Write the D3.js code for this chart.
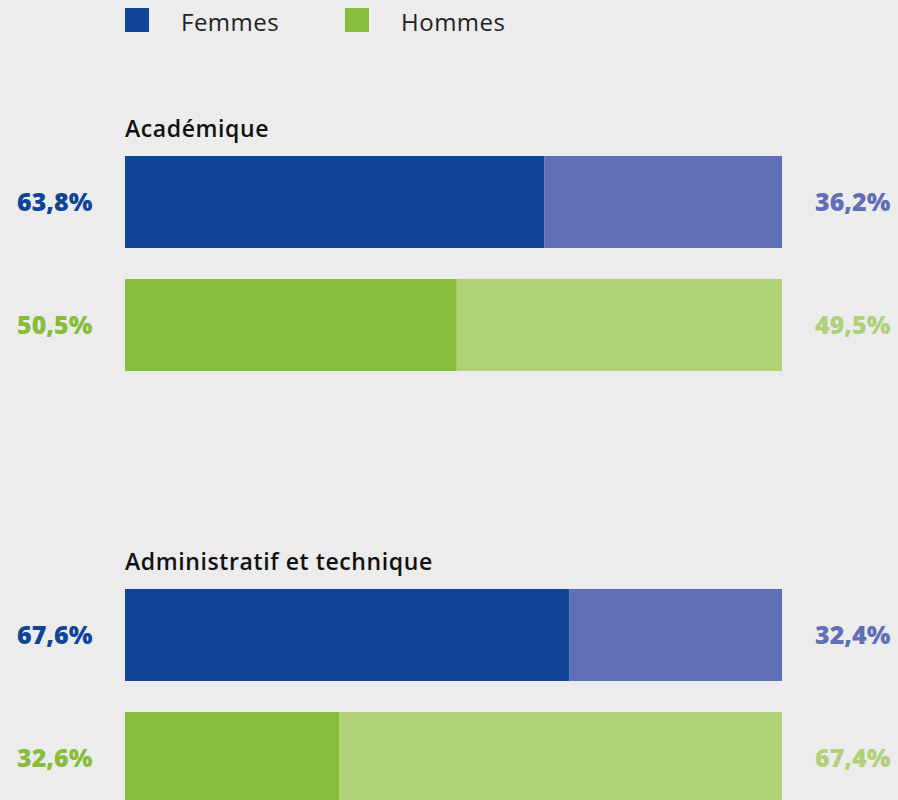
<!DOCTYPE html>
<html>
<head>
<meta charset="utf-8">
<script src="https://cdn.jsdelivr.net/npm/d3@7/dist/d3.min.js"></script>
<style>
  html, body { margin: 0; padding: 0; background: #ececec; }
  svg { display: block; }
  text { font-family: "Open Sans", Lato, sans-serif; }
</style>
</head>
<body>
<svg id="chart" width="898" height="800"></svg>
<script>
// Groups and their two rows (Femmes, Hommes)
const sections = ["Académique", "Administratif et technique"];
const rows = ["Femmes", "Hommes"];
// Main share per section/row (dark part); the remainder is the light part
const mainShare = [
  [63.8, 50.5],
  [67.6, 32.6]
];
const restShare = [
  [36.2, 49.5],
  [32.4, 67.4]
];
const legendItems = ["Femmes", "Hommes"];

const darkColors = { Femmes: "#0f4496", Hommes: "#86bd3a" };
const lightColors = { Femmes: "#6170b5", Hommes: "#b0d178" };

const svg = d3.select("#chart");
const W = 898, H = 800;
svg.append("rect").attr("width", W).attr("height", H).attr("fill", "#ececec");

const x = d3.scaleLinear().domain([0, 100]).range([125, 782]);
const sectionY = d3.scaleBand().domain(sections).range([105, 971]).paddingInner(0);
const rowY = d3.scaleBand().domain(rows).range([51, 266]).paddingInner(0.252).paddingOuter(0);

const fmt = v => d3.format(".1f")(v).replace(".", ",") + "%";

// Legend
const legend = svg.append("g");
legendItems.forEach((name, i) => {
  const g = legend.append("g").attr("transform", `translate(${125 + i * 220},8)`);
  g.append("rect").attr("width", 24).attr("height", 24).attr("fill", darkColors[name]);
  g.append("text").attr("x", 56).attr("y", 23).attr("font-size", 24).attr("font-weight", 400)
    .attr("letter-spacing", 0.5).attr("fill", "#222").text(name);
});

sections.forEach((sec, si) => {
  const g = svg.append("g").attr("transform", `translate(0,${sectionY(sec)})`);
  g.append("text").attr("x", 125).attr("y", 32).attr("font-size", 23).attr("font-weight", 600)
    .attr("letter-spacing", 0.6).attr("fill", "#111").text(sec);
  rows.forEach((r, ri) => {
    const y0 = rowY(r), h = rowY.bandwidth();
    const a = mainShare[si][ri], b = restShare[si][ri];
    g.append("rect").attr("x", x(0)).attr("y", y0).attr("width", x(a) - x(0)).attr("height", h)
      .attr("fill", darkColors[r]);
    g.append("rect").attr("x", x(a)).attr("y", y0).attr("width", x(a + b) - x(a)).attr("height", h)
      .attr("fill", lightColors[r]);
    g.append("text").attr("x", 17).attr("y", y0 + h / 2).attr("dy", "0.36em")
      .attr("font-size", 25).attr("font-weight", 800).attr("fill", darkColors[r]).text(fmt(a));
    g.append("text").attr("x", 815).attr("y", y0 + h / 2).attr("dy", "0.36em")
      .attr("font-size", 25).attr("font-weight", 800).attr("fill", lightColors[r]).text(fmt(b));
  });
});
</script>
</body>
</html>
